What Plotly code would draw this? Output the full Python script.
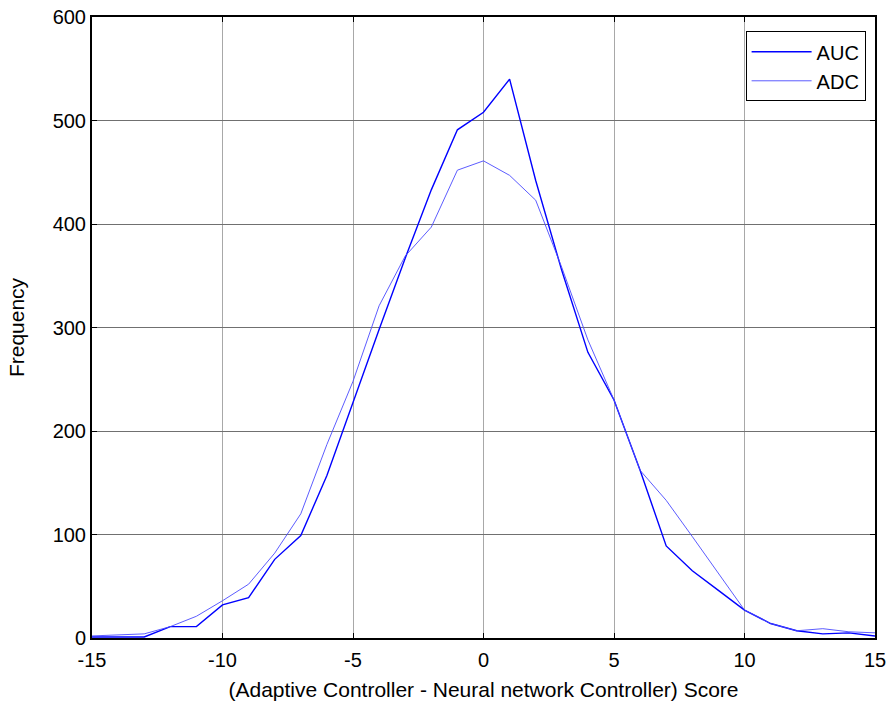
import plotly.graph_objects as go

scores = list(range(-15, 16))
auc = [1, 1, 1, 11, 11, 32, 39, 76, 99, 157, 228, 298, 367, 433, 491, 508,
       540, 442, 355, 276, 230, 162, 89, 65, 46, 27, 14, 7, 4, 5, 2]
adc = [2, 3, 4, 11, 21, 36, 52, 82, 120, 187, 248, 321, 369, 397, 452, 461,
       447, 423, 358, 288, 230, 162, 133, 98, 62, 27, 14, 7, 9, 6, 5]
x_ticks = [-15, -10, -5, 0, 5, 10, 15]
x_labels = ["-15", "-10", "-5", "0", "5", "10", "15"]
y_ticks = [0, 100, 200, 300, 400, 500, 600]

fig = go.Figure()
fig.add_trace(go.Scatter(x=scores, y=auc, mode="lines", name="AUC",
                         line=dict(color="#0000ff", width=1.4)))
fig.add_trace(go.Scatter(x=scores, y=adc, mode="lines", name="ADC",
                         line=dict(color="#4a4aff", width=0.9)))

fam = "Liberation Sans, Arial, sans-serif"
fig.update_layout(
    width=892, height=709,
    margin=dict(l=92, r=17, t=17, b=71, autoexpand=False),
    paper_bgcolor="white", plot_bgcolor="white",
    font=dict(family=fam, size=20, color="black"),
    showlegend=True,
    legend=dict(x=0.988, y=0.977, xanchor="right", yanchor="top",
                bordercolor="black", borderwidth=1, bgcolor="white",
                font=dict(family=fam, size=20), tracegroupgap=6,
                itemwidth=60),
)
fig.update_xaxes(range=[-15, 15], tickvals=x_ticks, ticktext=x_labels,
                 ticks="inside", ticklen=5, automargin=False,
                 tickcolor="black", showline=True, linecolor="black", linewidth=2,
                 mirror="ticks", showgrid=True, gridcolor="#a8a8a8", gridwidth=1,
                 zeroline=False, tickfont=dict(size=20), ticklabelstandoff=3,
                 title=dict(text="(Adaptive Controller - Neural network Controller) Score",
                            font=dict(size=21), standoff=12))
fig.update_yaxes(range=[0, 600], tickvals=y_ticks, ticks="inside", ticklen=5,
                 automargin=False,
                 tickcolor="black", showline=True, linecolor="black", linewidth=2,
                 mirror="ticks", showgrid=True, gridcolor="#707070", gridwidth=1,
                 zeroline=False, tickfont=dict(size=20),
                 title=dict(text="Frequency", font=dict(size=21), standoff=22))

fig.write_html("out.html")
